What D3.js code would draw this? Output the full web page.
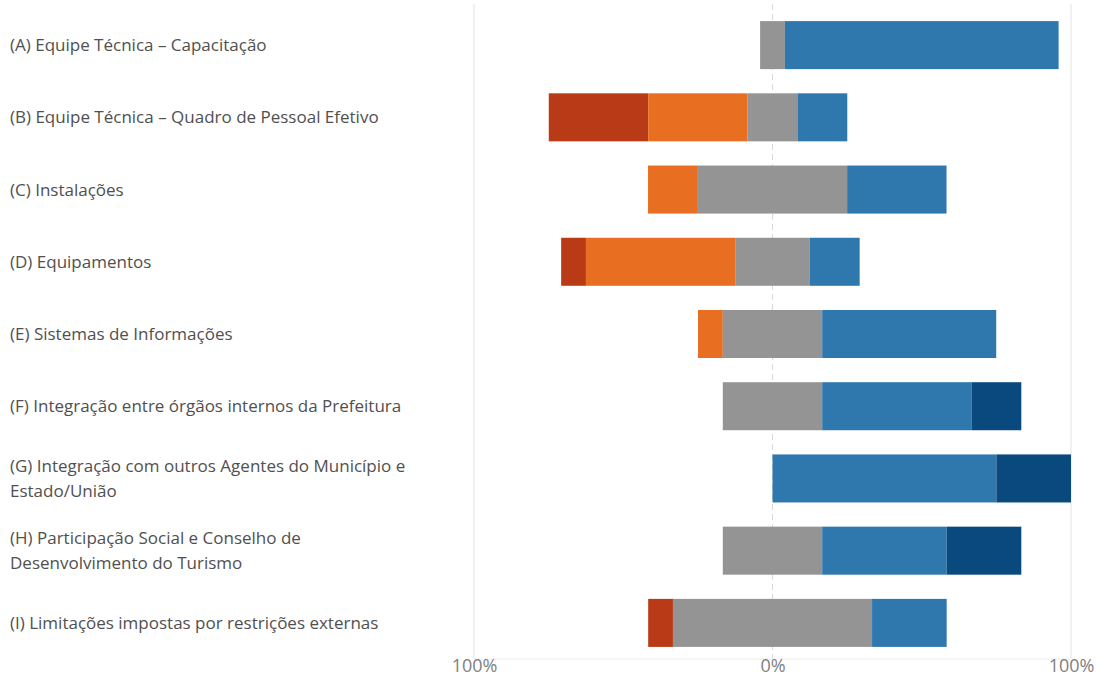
<!DOCTYPE html>
<html><head><meta charset="utf-8">
<script src="https://cdn.jsdelivr.net/npm/d3@7"></script>
<style>
html,body{margin:0;padding:0;background:#fff;}
svg{display:block;font-family:"Open Sans","Noto Sans",sans-serif;}
</style></head>
<body><svg id="chart" width="1098" height="677"></svg>
<script>
const categories = [
  ["(A) Equipe Técnica – Capacitação"],
  ["(B) Equipe Técnica – Quadro de Pessoal Efetivo"],
  ["(C) Instalações"],
  ["(D) Equipamentos"],
  ["(E) Sistemas de Informações"],
  ["(F) Integração entre órgãos internos da Prefeitura"],
  ["(G) Integração com outros Agentes do Município e", "Estado/União"],
  ["(H) Participação Social e Conselho de", "Desenvolvimento do Turismo"],
  ["(I) Limitações impostas por restrições externas"]
];
const seriesNames = ["Muito negativo", "Negativo", "Neutro", "Positivo", "Muito positivo"];
const seriesColors = ["#B83A16", "#E86F22", "#949494", "#2E78AE", "#09497E"];
const muitoNegativo = [0, 33.3, 0, 8.3, 0, 0, 0, 0, 8.3];
const negativo      = [0, 33.3, 16.7, 50, 8.3, 0, 0, 0, 0];
const neutro        = [8.3, 16.7, 50, 25, 33.3, 33.3, 0, 33.3, 66.7];
const positivo      = [91.7, 16.7, 33.3, 16.7, 58.3, 50, 75, 41.7, 25];
const muitoPositivo = [0, 0, 0, 0, 0, 16.7, 25, 25, 0];
const tickValues = [-100, 0, 100];
const tickLabels = ["100%", "0%", "100%"];

const series = [muitoNegativo, negativo, neutro, positivo, muitoPositivo];
const svg = d3.select("#chart");
const x = d3.scaleLinear().domain([-100, 100]).range([474, 1071]);
const y = d3.scaleBand().domain(d3.range(categories.length)).range([9, 659]).paddingInner(0.335).paddingOuter(0.1675);

// grid
const g = svg.append("g");
tickValues.forEach(v => {
  g.append("line").attr("x1", x(v)).attr("x2", x(v)).attr("y1", 4).attr("y2", 659)
    .attr("stroke", v === 0 ? "#d9d9d9" : "#e3e3e3").attr("stroke-width", 1)
    .attr("stroke-dasharray", v === 0 ? "6,4" : null);
});
g.append("line").attr("x1", x(-100)).attr("x2", x(100)).attr("y1", 659).attr("y2", 659)
  .attr("stroke", "#ececec");

// bars
categories.forEach((c, i) => {
  const neg = muitoNegativo[i] + negativo[i] + neutro[i] / 2;
  let start = -neg;
  series.forEach((s, k) => {
    const v = s[i];
    if (v > 0) {
      svg.append("rect").attr("x", x(start)).attr("width", x(start + v) - x(start))
        .attr("y", y(i)).attr("height", y.bandwidth()).attr("fill", seriesColors[k]);
    }
    start += v;
  });
});

// category labels
categories.forEach((c, i) => {
  const cy = y(i) + y.bandwidth() / 2;
  const lh = 25;
  const t = svg.append("text").attr("x", 10).attr("font-size", 17).attr("fill", "#505050");
  c.forEach((line, j) => {
    t.append("tspan").attr("x", 10).attr("y", cy + (j - (c.length - 1) / 2) * lh).attr("dy", "0.35em").text(line);
  });
});

// axis
const axis = d3.axisBottom(x).tickValues(tickValues).tickFormat((d, i) => tickLabels[i]).tickSize(0);
const ag = svg.append("g").attr("transform", "translate(0,659)").call(axis);
ag.select(".domain").remove();
ag.selectAll("text").attr("y", 7).attr("dy", "0.35em").attr("font-size", 18).attr("fill", "#7f7f7f").attr("font-family", "Open Sans, Noto Sans, sans-serif");
</script></body></html>
